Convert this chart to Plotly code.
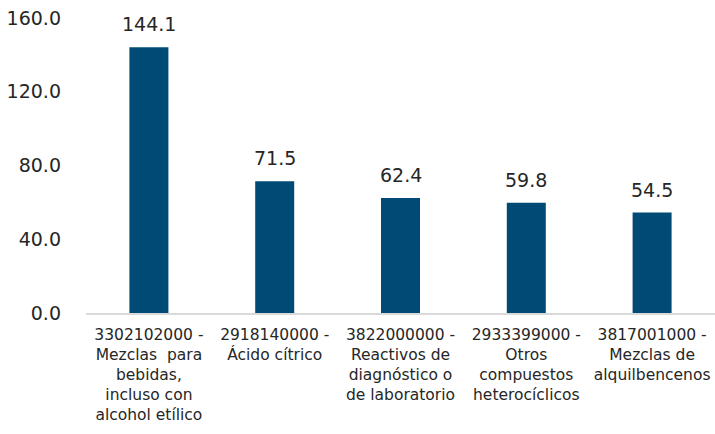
import plotly.graph_objects as go

categories = [
    "3302102000 -<br>Mezclas  para<br>bebidas,<br>incluso con<br>alcohol etílico",
    "2918140000 -<br>Ácido cítrico",
    "3822000000 -<br>Reactivos de<br>diagnóstico o<br>de laboratorio",
    "2933399000 -<br>Otros<br>compuestos<br>heterocíclicos",
    "3817001000 -<br>Mezclas de<br>alquilbencenos",
]
values = [144.1, 71.5, 62.4, 59.8, 54.5]
y_ticks = [0, 40, 80, 120, 160]
y_tick_labels = ["0.0", "40.0", "80.0", "120.0", "160.0"]

FONT = "DejaVu Sans"
TXT = "#262626"

fig = go.Figure(go.Bar(
    x=categories, y=values,
    marker=dict(color="#004B76", line=dict(width=0)),
    cliponaxis=False,
))

for c, v in zip(categories, values):
    fig.add_annotation(x=c, y=v, text=f"{v:.1f}", showarrow=False,
                       yanchor="bottom", yshift=10,
                       font=dict(family=FONT, size=19, color=TXT))

fig.update_layout(
    width=715, height=434,
    margin=dict(l=86, r=0, t=18, b=121),
    paper_bgcolor="white", plot_bgcolor="white",
    bargap=0.69,
    showlegend=False,
    font=dict(family=FONT, color=TXT),
)
fig.update_xaxes(
    showline=True, linecolor="#D9D9D9", linewidth=2,
    showgrid=False, ticks="", tickfont=dict(family=FONT, size=15.5, color=TXT),
    tickangle=0, automargin=False, ticklabelstandoff=6,
)
fig.update_yaxes(
    range=[0, 160], tickvals=y_ticks, ticktext=y_tick_labels,
    showgrid=False, zeroline=False, showline=False, ticks="",
    tickfont=dict(family=FONT, size=19, color=TXT),
    ticklabelstandoff=24, automargin=False,
)
fig.write_html("out.html", config={"displayModeBar": False},
               post_script="document.body.style.margin='0';document.body.style.overflow='hidden';")
